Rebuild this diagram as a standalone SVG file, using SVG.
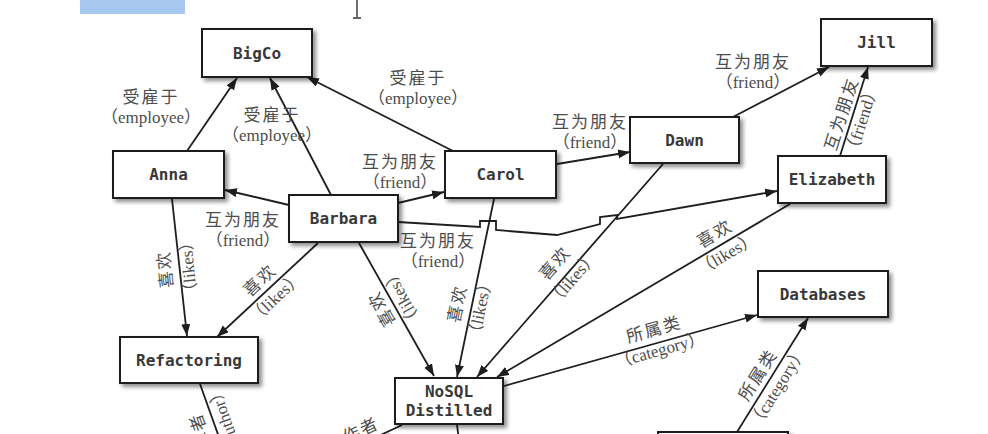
<svg xmlns="http://www.w3.org/2000/svg" width="988" height="434" viewBox="0 0 988 434">
<style>
.box{fill:#fff;stroke:#1e1e1e;stroke-width:2}
.nt{font-family:"DejaVu Sans Mono","Liberation Mono",monospace;font-size:16px;font-weight:bold;fill:#383838;text-anchor:middle}
.e{fill:none;stroke:#1e1e1e;stroke-width:1.8}
.cn{font-family:"Liberation Serif","Noto Sans CJK SC",serif;font-size:17px;letter-spacing:2px;fill:#4d4d4d;text-anchor:middle}
.en{font-family:"Liberation Serif","Noto Sans CJK SC",serif;font-size:17px;fill:#4d4d4d;text-anchor:middle}
</style>
<defs>
<marker id="ar" markerUnits="userSpaceOnUse" markerWidth="13" markerHeight="10" refX="12" refY="4.5" orient="auto">
<path d="M0,0 L12,4.5 L0,9 z" fill="#1e1e1e"/>
</marker>
<filter id="sh" x="-20%" y="-20%" width="140%" height="150%">
<feDropShadow dx="3" dy="3" stdDeviation="2" flood-color="#000" flood-opacity="0.45"/>
</filter>
</defs>
<rect width="988" height="434" fill="#fff"/>
<rect x="80" y="0" width="105" height="14" fill="#a6c8ee"/>
<g id="cursor" stroke="#333" stroke-width="1.4" fill="none">
<path d="M357,0 V17 M353,18 H361"/>
</g>

<g id="connectors">
<path class="e" marker-end="url(#ar)" d="M187,151 L237,78"/>
<path class="e" marker-end="url(#ar)" d="M331,195 L270,78"/>
<path class="e" marker-end="url(#ar)" d="M453,151 L307,77"/>
<path class="e" marker-end="url(#ar)" d="M289,205 L225,190"/>
<path class="e" marker-end="url(#ar)" d="M398,203 L444,192"/>
<path class="e" marker-end="url(#ar)" d="M557,164 L630,152"/>
<path class="e" marker-end="url(#ar)" d="M733,117 L829,67"/>
<path class="e" marker-end="url(#ar)" d="M840,156 L868,67"/>
<path class="e" marker-end="url(#ar)" d="M398,222 L480,227 L480,221 L496,221 L496,230 L557,235 L600,224 L600,217 L617,215 L617,219 L777,191"/>
<path class="e" marker-end="url(#ar)" d="M172,199 L187,336"/>
<path class="e" marker-end="url(#ar)" d="M318,243 L217,337"/>
<path class="e" marker-end="url(#ar)" d="M359,243 L434,376"/>
<path class="e" marker-end="url(#ar)" d="M494,199 L457,377"/>
<path class="e" marker-end="url(#ar)" d="M663,164 L477,377"/>
<path class="e" marker-end="url(#ar)" d="M790,204 L497,377"/>
<path class="e" marker-end="url(#ar)" d="M504,386 L757,315"/>
<path class="e" marker-end="url(#ar)" d="M737,432 L808,318"/>
<path class="e" d="M200,384 L220,440"/>
<path class="e" d="M402,425 L370,440"/>
<path class="e" d="M457,425 L459,440"/>
</g>

<g id="labels">
<g transform="translate(151,107)"><text class="cn" y="-4">受雇于</text><text class="en" y="16">（employee）</text></g>
<g transform="translate(272,125)"><text class="cn" y="-4">受雇于</text><text class="en" y="16">（employee）</text></g>
<g transform="translate(418,88)"><text class="cn" y="-4">受雇于</text><text class="en" y="16">（employee）</text></g>
<g transform="translate(243,230)"><text class="cn" y="-4">互为朋友</text><text class="en" y="16">（friend）</text></g>
<g transform="translate(400,172)"><text class="cn" y="-4">互为朋友</text><text class="en" y="16">（friend）</text></g>
<g transform="translate(590,132)"><text class="cn" y="-4">互为朋友</text><text class="en" y="16">（friend）</text></g>
<g transform="translate(753,72)"><text class="cn" y="-4">互为朋友</text><text class="en" y="16">（friend）</text></g>
<g transform="translate(852,117) rotate(-72.5)"><text class="cn" y="-5">互为朋友</text><text class="en" y="16">（friend）</text></g>
<g transform="translate(438,251)"><text class="cn" y="-4">互为朋友</text><text class="en" y="16">（friend）</text></g>
<g transform="translate(177,268) rotate(-96)"><text class="cn" y="-6">喜欢</text><text class="en" y="17">（likes）</text></g>
<g transform="translate(268,289) rotate(-43)"><text class="cn" y="-6">喜欢</text><text class="en" y="17">（likes）</text></g>
<g transform="translate(392,303) rotate(-119.4)"><text class="cn" y="-6">喜欢</text><text class="en" y="17">（likes）</text></g>
<g transform="translate(469,306) rotate(-78.3)"><text class="cn" y="-6">喜欢</text><text class="en" y="17">（likes）</text></g>
<g transform="translate(564,271) rotate(-48.9)"><text class="cn" y="-6">喜欢</text><text class="en" y="17">（likes）</text></g>
<g transform="translate(721,244) rotate(-30.6)"><text class="cn" y="-6">喜欢</text><text class="en" y="17">（likes）</text></g>
<g transform="translate(657,340) rotate(-15.7)"><text class="cn" y="-5">所属类</text><text class="en" y="16">（category）</text></g>
<g transform="translate(768,381) rotate(-58)"><text class="cn" y="-6">所属类</text><text class="en" y="17">（category）</text></g>
<g transform="translate(214,426) rotate(-110)"><text class="cn" y="-8">作者</text><text class="en" y="18">（author）</text></g>
<g transform="translate(366,441) rotate(-25)"><text class="cn" y="-6">作者</text><text class="en" y="17">（author）</text></g>
</g>

<g id="n-bigco"><rect class="box" filter="url(#sh)" x="202" y="29" width="110" height="48"/><text class="nt" x="257" y="59">BigCo</text></g>
<g id="n-anna"><rect class="box" filter="url(#sh)" x="113" y="151" width="111" height="47"/><text class="nt" x="168.5" y="180">Anna</text></g>
<g id="n-barbara"><rect class="box" filter="url(#sh)" x="289" y="195" width="109" height="47"/><text class="nt" x="343.5" y="224">Barbara</text></g>
<g id="n-carol"><rect class="box" filter="url(#sh)" x="445" y="151" width="111" height="47"/><text class="nt" x="500.5" y="180">Carol</text></g>
<g id="n-dawn"><rect class="box" filter="url(#sh)" x="630" y="117" width="109" height="46"/><text class="nt" x="684.5" y="145.5">Dawn</text></g>
<g id="n-jill"><rect class="box" filter="url(#sh)" x="821" y="19" width="111" height="47"/><text class="nt" x="876.5" y="48">Jill</text></g>
<g id="n-elizabeth"><rect class="box" filter="url(#sh)" x="778" y="156" width="108" height="47"/><text class="nt" x="832" y="185">Elizabeth</text></g>
<g id="n-refactoring"><rect class="box" filter="url(#sh)" x="120" y="337" width="138" height="46"/><text class="nt" x="189" y="365.5">Refactoring</text></g>
<g id="n-nosql"><rect class="box" filter="url(#sh)" x="395" y="378" width="108" height="46"/><text class="nt" x="449" y="397">NoSQL</text><text class="nt" x="449" y="416">Distilled</text></g>
<g id="n-databases"><rect class="box" filter="url(#sh)" x="758" y="271" width="130" height="46"/><text class="nt" x="823" y="299.5">Databases</text></g>
<g id="n-bottom"><rect class="box" filter="url(#sh)" x="658" y="432" width="130" height="46"/></g>
</svg>
